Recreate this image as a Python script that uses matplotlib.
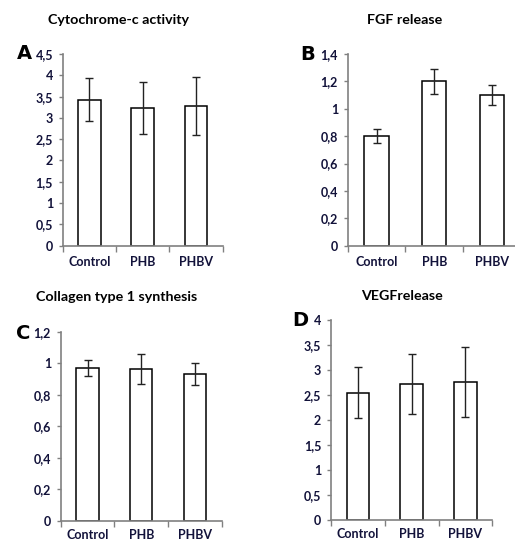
import numpy as np
import matplotlib
matplotlib.use("Agg")
import matplotlib.pyplot as plt
from matplotlib.ticker import FuncFormatter

plt.rcParams['font.family'] = ['Lato', 'DejaVu Sans']

groups = ["Control", "PHB", "PHBV"]

cyto_mean = [3.43, 3.24, 3.28]
cyto_err = [0.50, 0.61, 0.69]

fgf_mean = [0.80, 1.20, 1.10]
fgf_err = [0.05, 0.093, 0.07]

coll_mean = [0.97, 0.965, 0.935]
coll_err = [0.052, 0.093, 0.07]

vegf_mean = [2.55, 2.72, 2.76]
vegf_err = [0.505, 0.60, 0.70]

panels = [
    # letter, title, means, errs, ymax, ystep, axes rect, letter pos, title pos, label pad
    ("A", "Cytochrome-c activity", cyto_mean, cyto_err, 4.5, 0.5,
     [0.1217, 0.5467, 0.3107, 0.3537], (0.032, 0.901), (0.230, 0.963), 7.5),
    ("B", "FGF release", fgf_mean, fgf_err, 1.4, 0.2,
     [0.6751, 0.5467, 0.3365, 0.3537], (0.583, 0.899), (0.785, 0.963), 7.5),
    ("C", "Collagen type 1 synthesis", coll_mean, coll_err, 1.2, 0.2,
     [0.1179, 0.0393, 0.3126, 0.3481], (0.032, 0.385), (0.227, 0.452), 6),
    ("D", "VEGFrelease", vegf_mean, vegf_err, 4.0, 0.5,
     [0.6427, 0.0400, 0.3132, 0.3696], (0.568, 0.408), (0.781, 0.454), 5.5),
]

text_color = "#12123a"
axis_color = "#808080"

fig = plt.figure(figsize=(5.15, 5.42), dpi=100)

for letter, title, means, errs, ymax, ystep, rect, lpos, tpos, lpad in panels:
    ax = fig.add_axes(rect)
    x = np.arange(len(groups))
    ax.bar(x, means, width=0.42, color="white", edgecolor="black",
           linewidth=1.1, zorder=2)
    ax.errorbar(x, means, yerr=errs, fmt="none", ecolor="#222222",
                elinewidth=1.0, capsize=3.2, capthick=1.0, zorder=3)
    ax.set_xlim(-0.5, len(groups) - 0.5)
    ax.set_ylim(0, ymax)
    ax.set_yticks(np.arange(0, ymax + ystep / 2, ystep))
    ax.yaxis.set_major_formatter(
        FuncFormatter(lambda v, p: ("%g" % round(v, 2)).replace(".", ",")))
    ax.set_xticks(x)
    ax.set_xticklabels(groups)
    ax.set_xticks(np.arange(-0.5, len(groups)), minor=True)
    ax.tick_params(axis="x", which="major", length=0, pad=lpad,
                   labelsize=9, labelcolor=text_color)
    ax.tick_params(axis="x", which="minor", length=4, width=1.0,
                   color=axis_color, direction="out")
    ax.tick_params(axis="y", length=3, width=1.0, color=axis_color,
                   direction="out", pad=4, labelsize=9,
                   labelcolor=text_color)
    for lab in ax.get_xticklabels() + ax.get_yticklabels():
        lab.set_fontweight("bold")
    for s in ["top", "right"]:
        ax.spines[s].set_visible(False)
    for s in ["left", "bottom"]:
        ax.spines[s].set_color(axis_color)
        ax.spines[s].set_linewidth(1.2)
    fig.text(lpos[0], lpos[1], letter, fontsize=14, fontweight="bold",
             family="DejaVu Sans", ha="left", va="center", color="black")
    fig.text(tpos[0], tpos[1], title, fontsize=10.3, fontweight="bold",
             ha="center", va="center", color="black")

fig.savefig("out.png", dpi=100)
